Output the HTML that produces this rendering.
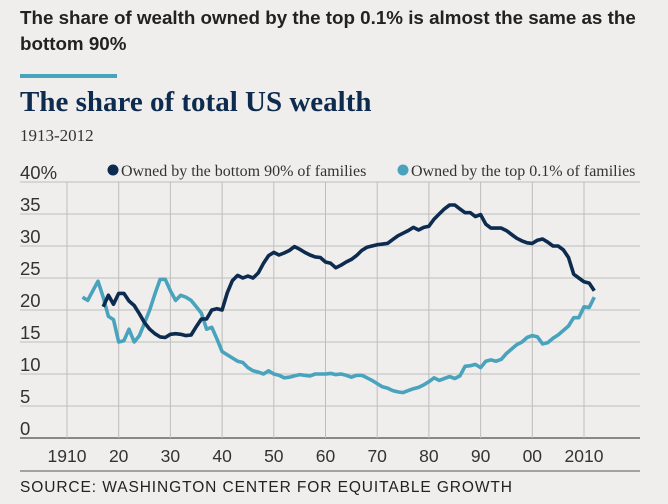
<!DOCTYPE html>
<html><head><meta charset="utf-8">
<style>
body{margin:0;background:#efeeed;width:668px;height:499px;overflow:hidden;font-family:"Liberation Sans",sans-serif}
</style></head>
<body>
<svg id="chart" width="668" height="499" xmlns="http://www.w3.org/2000/svg">
<rect width="668" height="499" fill="#efeeed"/>
<text x="20" y="24" font-family="Liberation Sans" font-weight="bold" font-size="18.8" fill="#222">The share of wealth owned by the top 0.1% is almost the same as the</text>
<text x="20" y="50" font-family="Liberation Sans" font-weight="bold" font-size="18.8" fill="#222">bottom 90%</text>
<rect x="20" y="74" width="97" height="4" fill="#4aa3bd"/>
<text x="20" y="111" font-family="Liberation Serif" font-weight="bold" font-size="29" fill="#0d2b4e">The share of total US wealth</text>
<text x="20" y="141" font-family="Liberation Serif" font-size="17" fill="#333">1913-2012</text>
<g id="grid"></g>
<g id="lines"></g>
<g>
<circle cx="113" cy="170" r="5.5" fill="#0d2b4e"/>
<text x="121" y="176" font-family="Liberation Serif" font-size="16" fill="#333">Owned by the bottom 90% of families</text>
<circle cx="403" cy="170" r="5.5" fill="#4aa3bd"/>
<text x="411" y="176" font-family="Liberation Serif" font-size="16" fill="#333">Owned by the top 0.1% of families</text>
</g>
<line x1="20" y1="471" x2="640" y2="471" stroke="#555" stroke-width="1"/>
<text x="20" y="492" font-family="Liberation Sans" font-size="15.5" fill="#222" textLength="492">SOURCE: WASHINGTON CENTER FOR EQUITABLE GROWTH</text>
</svg>
<script>
const yTicks=[0,5,10,15,20,25,30,35,40];
const yTickLabels=["0","5","10","15","20","25","30","35","40%"];
const xTicks=[1910,1920,1930,1940,1950,1960,1970,1980,1990,2000,2010];
const xTickLabels=["1910","20","30","40","50","60","70","80","90","00","2010"];
const topYears=[];for(let y=1913;y<=2012;y++)topYears.push(y);
const top01=[22,21.5,23,24.5,22,19,18.5,15,15.2,17,15,16,18,20,22.5,24.8,24.8,23,21.5,22.3,22,21.5,20.5,19.5,17,17.3,15.5,13.5,13,12.5,12,11.8,11,10.5,10.3,10,10.5,10,9.8,9.4,9.5,9.7,9.9,9.8,9.7,10,10,10,10.1,9.9,10,9.8,9.5,9.8,9.8,9.4,9,8.5,8,7.8,7.4,7.2,7.1,7.4,7.7,7.9,8.3,8.8,9.4,9,9.3,9.6,9.3,9.7,11.2,11.3,11.5,11,12,12.2,12,12.3,13.2,13.9,14.6,15,15.7,16,15.8,14.7,14.9,15.6,16.1,16.8,17.5,18.8,18.8,20.5,20.4,22];
const botYears=[];for(let y=1917;y<=2012;y++)botYears.push(y);
const bottom90=[20.5,22.3,20.9,22.6,22.6,21.4,20.7,19.4,18,17,16.3,15.8,15.7,16.2,16.3,16.2,16,16.1,17.4,18.6,18.6,20,20.2,20,22.7,24.6,25.4,25,25.3,25,25.8,27.3,28.5,29,28.6,28.9,29.3,29.9,29.5,29,28.6,28.3,28.2,27.5,27.3,26.6,27,27.5,27.9,28.5,29.3,29.8,30,30.2,30.3,30.4,31,31.6,32,32.4,32.9,32.5,32.9,33.1,34.2,35,35.8,36.4,36.4,35.8,35.2,35.2,34.6,34.9,33.4,32.8,32.8,32.8,32.4,31.8,31.2,30.8,30.5,30.4,30.9,31.1,30.6,30,30,29.4,28.2,25.6,25,24.4,24.2,23];
const X=yr=>67+(yr-1910)*5.17;
const Y=v=>438-v*6.4;
const NS="http://www.w3.org/2000/svg";
const grid=document.getElementById('grid'),lines=document.getElementById('lines');
function mk(tag,attrs,parent){const e=document.createElementNS(NS,tag);for(const k in attrs)e.setAttribute(k,attrs[k]);parent.appendChild(e);return e;}
yTicks.forEach((v,i)=>{
 const l=mk('line',{x1:20,x2:640,y1:Y(v),y2:Y(v),stroke:i==0?'#666':'#bdbdbd','stroke-width':i==0?1.5:1},grid);
 
 
 const t=mk('text',{x:20,y:Y(v)-3,'font-family':'Liberation Sans','font-size':18.5,fill:'#333'},grid);
 t.textContent=yTickLabels[i];
 
 
});
xTicks.forEach((yr,i)=>{
 const l=mk('line',{x1:X(yr),x2:X(yr),y1:Y(40),y2:Y(0),stroke:'#bdbdbd','stroke-width':1},grid);
 
 
 const t=mk('text',{x:X(yr),y:462,'text-anchor':'middle','font-family':'Liberation Sans','font-size':17.5,fill:'#333'},grid);
 t.textContent=xTickLabels[i];
 
 
});
function path(years,vals,color,name){
 const d=years.map((yr,i)=>(i?'L':'M')+X(yr).toFixed(1)+','+Y(vals[i]).toFixed(1)).join('');
 const p=mk('path',{d:d,fill:'none',stroke:color,'stroke-width':3.6,'stroke-linejoin':'round'},lines);
 
 
}
path(topYears,top01,'#4aa3bd','top-0.1-line');
path(botYears,bottom90,'#0d2b4e','bottom-90-line');
</script>
</body></html>
